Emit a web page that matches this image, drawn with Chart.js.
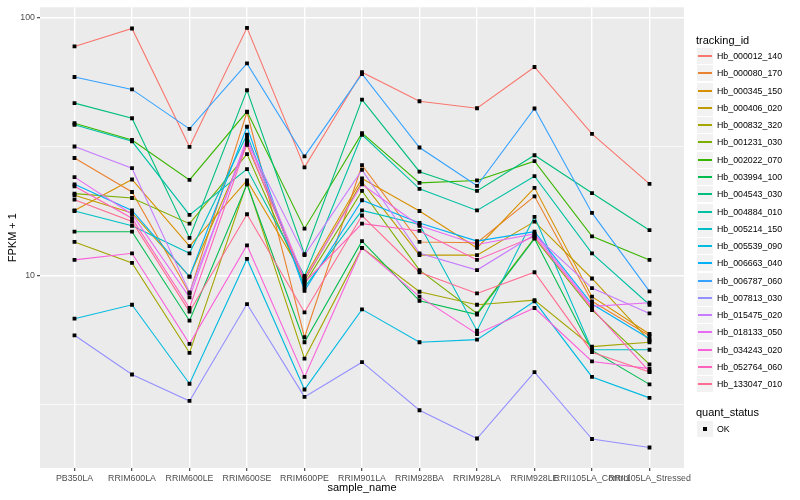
<!DOCTYPE html>
<html>
<head>
<meta charset="utf-8">
<script src="https://cdn.jsdelivr.net/npm/chart.js@4.4.1/dist/chart.umd.min.js"></script>
<style>
  body { margin: 0; background: #fff; }
  #wrap { position: relative; width: 800px; height: 500px; font-family: "Liberation Sans", Arial, sans-serif; }
  #chart { position: absolute; left: 0; top: 0; }
  .ltitle { position: absolute; left: 696px; font-size: 11px; line-height: 13px; color: #000; }
  .lrow { position: absolute; left: 697px; height: 17px; width: 100px; }
  .lkey { position: absolute; left: 0; top: 0; width: 16px; height: 16px; background: #F2F2F2; }
  .lline { position: absolute; left: 1px; right: 1px; top: 7px; height: 2px; }
  .ldot { position: absolute; left: 6px; top: 6px; width: 4px; height: 4px; background: #000; }
  .ltext { position: absolute; left: 20px; top: 0; line-height: 17px; font-size: 8.8px; color: #000; white-space: nowrap; }
</style>
</head>
<body>
<div id="wrap">
  <canvas id="chart"></canvas>
  <div id="legend"></div>
</div>
<script>
// categories
const sampleNames = ['PB350LA', 'RRIM600LA', 'RRIM600LE', 'RRIM600SE', 'RRIM600PE', 'RRIM901LA',
  'RRIM928BA', 'RRIM928LA', 'RRIM928LE', 'RRII105LA_Control', 'RRII105LA_Stressed'];

const trackingIds = ['Hb_000012_140', 'Hb_000080_170', 'Hb_000345_150', 'Hb_000406_020', 'Hb_000832_320',
  'Hb_001231_030', 'Hb_002022_070', 'Hb_003994_100', 'Hb_004543_030', 'Hb_004884_010', 'Hb_005214_150',
  'Hb_005539_090', 'Hb_006663_040', 'Hb_006787_060', 'Hb_007813_030', 'Hb_015475_020', 'Hb_018133_050',
  'Hb_034243_020', 'Hb_052764_060', 'Hb_133047_010'];

const seriesColors = ['#F8766D', '#EA8331', '#D89000', '#C09B00', '#A3A500', '#7CAE00', '#39B600', '#00BB4E',
  '#00BF7D', '#00C1A3', '#00BFC4', '#00BAE0', '#00B0F6', '#35A2FF', '#9590FF', '#C77CFF', '#E76BF3',
  '#FA62DB', '#FF62BC', '#FF6C91'];

// FPKM + 1 per sample
const hb_000012_140 = [77.5, 91.0, 31.6, 91.5, 26.3, 61.6, 47.5, 44.6, 64.5, 35.5, 22.7];
const hb_000080_170 = [28.6, 21.1, 8.52, 43.1, 5.76, 26.8, 13.5, 13.4, 20.3, 7.94, 5.84];
const hb_000345_150 = [17.9, 23.6, 13.0, 23.4, 9.83, 23.8, 17.8, 12.8, 21.9, 8.28, 5.93];
const hb_000406_020 = [20.5, 17.5, 9.91, 32.2, 9.54, 23.1, 12.0, 12.0, 16.2, 9.74, 5.59];
const hb_000832_320 = [13.5, 11.2, 5.01, 22.9, 4.76, 12.8, 8.65, 7.70, 8.03, 5.30, 5.51];
const hb_001231_030 = [20.8, 20.0, 15.9, 29.6, 9.26, 21.3, 10.5, 7.13, 14.0, 7.35, 4.52];
const hb_002022_070 = [39.0, 33.6, 23.5, 43.3, 15.2, 35.7, 22.9, 23.4, 27.8, 14.2, 11.5];
const hb_003994_100 = [14.8, 14.8, 6.68, 22.6, 5.51, 13.6, 7.98, 7.05, 13.9, 5.12, 3.78];
const hb_004543_030 = [46.7, 40.8, 14.0, 52.4, 12.1, 48.2, 25.3, 21.3, 29.3, 20.9, 15.0];
const hb_004884_010 = [38.5, 33.2, 17.2, 25.9, 9.97, 35.2, 21.7, 17.9, 24.3, 12.2, 7.70];
const hb_005214_150 = [17.8, 15.6, 12.2, 35.2, 8.99, 17.9, 15.8, 6.11, 16.9, 5.15, 5.15];
const hb_005539_090 = [6.80, 7.70, 3.80, 11.6, 3.61, 7.39, 5.51, 5.64, 7.94, 4.04, 3.35];
const hb_006663_040 = [22.6, 17.9, 9.91, 37.8, 8.73, 19.6, 16.0, 13.6, 14.8, 7.75, 5.68];
const hb_006787_060 = [59.0, 52.8, 37.1, 66.6, 29.0, 60.6, 31.4, 22.3, 44.5, 17.5, 8.68];
const hb_007813_030 = [5.86, 4.13, 3.26, 7.75, 3.38, 4.61, 3.00, 2.33, 4.22, 2.32, 2.15];
const hb_015475_020 = [31.7, 26.1, 8.60, 33.2, 12.0, 25.7, 12.2, 10.5, 14.4, 8.94, 7.13];
const hb_018133_050 = [24.1, 17.3, 8.23, 34.2, 9.68, 22.6, 15.6, 13.2, 14.5, 7.59, 7.84];
const hb_034243_020 = [11.5, 12.2, 5.43, 13.1, 4.04, 12.8, 8.28, 5.93, 7.48, 4.64, 4.35];
const hb_052764_060 = [22.2, 16.7, 7.48, 32.7, 9.40, 15.9, 14.9, 11.5, 14.2, 7.46, 4.24];
const hb_133047_010 = [19.7, 16.2, 7.24, 17.3, 7.20, 17.1, 10.3, 8.52, 10.3, 5.04, 4.22];

const seriesValues = [hb_000012_140, hb_000080_170, hb_000345_150, hb_000406_020, hb_000832_320,
  hb_001231_030, hb_002022_070, hb_003994_100, hb_004543_030, hb_004884_010, hb_005214_150,
  hb_005539_090, hb_006663_040, hb_006787_060, hb_007813_030, hb_015475_020, hb_018133_050,
  hb_034243_020, hb_052764_060, hb_133047_010];

// y axis breaks
const yMajor = [10, 100];
const yMajorLabels = ['10', '100'];
const yMinor = [3.162, 31.62];

const family = '"Liberation Sans", Arial, sans-serif';

// grey panel behind the grid
const panelBackground = {
  id: 'panelBackground',
  beforeDraw(chart) {
    const { ctx, chartArea: a } = chart;
    ctx.save();
    ctx.fillStyle = '#EBEBEB';
    ctx.fillRect(a.left, a.top, a.right - a.left, a.bottom - a.top);
    ctx.restore();
  }
};

const lineSets = trackingIds.map((id, i) => ({
  type: 'line',
  label: id,
  data: seriesValues[i].map((v, j) => ({ x: j, y: v })),
  borderColor: seriesColors[i],
  borderWidth: 1.1,
  pointRadius: 0,
  fill: false,
  tension: 0,
  order: 100 - i
}));

// all points on top of all lines, like geom_point after geom_line
const pointSet = {
  type: 'scatter',
  label: 'OK',
  data: seriesValues.flatMap(vals => vals.map((v, j) => ({ x: j, y: v }))),
  pointStyle: 'rect',
  pointRadius: 2.7,
  pointBackgroundColor: '#000',
  pointBorderWidth: 0,
  order: 0
};

new Chart(document.getElementById('chart'), {
  type: 'line',
  data: { datasets: [...lineSets, pointSet] },
  options: {
    responsive: true,
    maintainAspectRatio: false,
    animation: false,
    layout: { padding: { top: 5, right: 116, left: 0, bottom: 0 } },
    plugins: { legend: { display: false }, tooltip: { enabled: false } },
    scales: {
      x: {
        type: 'linear',
        min: -0.6,
        max: 10.6,
        afterBuildTicks: s => { s.ticks = sampleNames.map((n, i) => ({ value: i })); },
        afterFit: s => { s.height = 32; },
        border: { display: false },
        grid: { color: '#FFFFFF', lineWidth: 1.4, tickLength: 3, tickColor: '#333333', tickWidth: 1.07 },
        ticks: {
          callback: v => sampleNames[v],
          autoSkip: false, maxRotation: 0, minRotation: 0, padding: 2,
          color: '#4D4D4D', font: { size: 8.8, family: family }
        },
        title: { display: true, text: 'sample_name', color: '#000', font: { size: 11, family: family },
          padding: { top: 0, bottom: 5.4 } }
      },
      y: {
        type: 'logarithmic',
        min: 1.79,
        max: 110,
        afterBuildTicks: s => { s.ticks = yMinor.concat(yMajor).map(v => ({ value: v })); },
        afterFit: s => { s.width = 40; },
        border: { display: false },
        grid: {
          color: '#FFFFFF',
          lineWidth: c => yMajor.includes(c.tick.value) ? 1.4 : 0.7,
          tickLength: 3,
          tickColor: c => yMajor.includes(c.tick.value) ? '#333333' : 'rgba(0,0,0,0)',
          tickWidth: 1.07
        },
        ticks: {
          callback: v => { const k = yMajor.indexOf(v); return k >= 0 ? yMajorLabels[k] : ''; },
          padding: 2, color: '#4D4D4D', font: { size: 8.8, family: family }
        },
        title: { display: true, text: 'FPKM + 1', color: '#000', font: { size: 11, family: family },
          padding: { top: 6.4, bottom: 0 } }
      }
    }
  },
  plugins: [panelBackground]
});

// legend
const legend = document.getElementById('legend');
let html = '<div class="ltitle" style="top:34px">tracking_id</div>';
trackingIds.forEach((id, i) => {
  const top = Math.round(48 + 17.28 * i);
  html += `<div class="lrow" style="top:${top}px"><div class="lkey"><div class="lline" style="background:${seriesColors[i]}"></div></div><div class="ltext">${id}</div></div>`;
});
html += '<div class="ltitle" style="top:406px">quant_status</div>';
html += '<div class="lrow" style="top:421px"><div class="lkey"><div class="ldot"></div></div><div class="ltext">OK</div></div>';
legend.innerHTML = html;
</script>
</body>
</html>
